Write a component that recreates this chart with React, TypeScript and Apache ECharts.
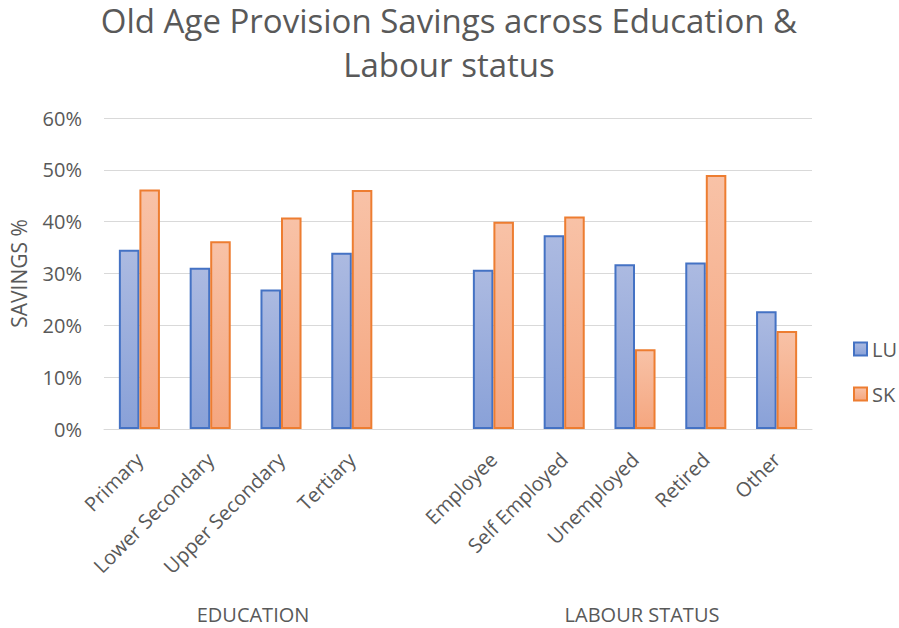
import React, { useEffect, useRef } from "react";
import * as echarts from "echarts";

const categories = [
  "Primary",
  "Lower Secondary",
  "Upper Secondary",
  "Tertiary",
  "",
  "Employee",
  "Self Employed",
  "Unemployed",
  "Retired",
  "Other",
];
const luValues = [0.346, 0.311, 0.269, 0.34, null, 0.307, 0.374, 0.318, 0.321, 0.227];
const skValues = [0.462, 0.362, 0.408, 0.461, null, 0.4, 0.41, 0.154, 0.49, 0.189];
const groupLabels = ["EDUCATION", "LABOUR STATUS"];
const yTicks = [0, 0.1, 0.2, 0.3, 0.4, 0.5, 0.6];
const titleLines = ["Old Age Provision Savings across Education &", "Labour status"];

const FONT = "'Open Sans', 'DejaVu Sans', sans-serif";
const GREY = "#595959";

export default function App() {
  const ref = useRef<HTMLDivElement>(null);
  useEffect(() => {
    document.body.style.margin = "0";
    if (!ref.current) return;
    const chart = echarts.init(ref.current, null, { renderer: "svg" });
    chart.setOption({
      animation: false,
      backgroundColor: "#ffffff",
      textStyle: { fontFamily: FONT },
      legend: {
        orient: "vertical",
        left: 853,
        top: 339,
        padding: 0,
        itemWidth: 13,
        itemHeight: 13,
        itemGap: 25,
        icon: "rect",
        textStyle: { fontFamily: FONT, fontSize: 20, color: GREY, lineHeight: 20 },
        data: ["LU", "SK"],
      },
      grid: { left: 99, right: 87, top: 118, bottom: 199, containLabel: false },
      xAxis: {
        type: "category",
        data: categories,
        axisLine: { lineStyle: { color: "#d9d9d9", width: 1 } },
        axisTick: { show: false },
        axisLabel: {
          interval: 0,
          rotate: 45,
          margin: 27,
          fontFamily: FONT,
          fontSize: 20,
          color: GREY,
        },
      },
      yAxis: {
        type: "value",
        min: yTicks[0],
        max: yTicks[yTicks.length - 1],
        interval: 0.1,
        name: "SAVINGS %",
        nameLocation: "middle",
        nameRotate: 90,
        nameGap: 75,
        nameTextStyle: { fontFamily: FONT, fontSize: 21, color: GREY },
        axisLine: { show: false },
        axisTick: { show: false },
        splitLine: { lineStyle: { color: "#d9d9d9", width: 1 } },
        axisLabel: {
          margin: 22,
          fontFamily: FONT,
          fontSize: 20,
          color: GREY,
          formatter: (v: number) => Math.round(v * 100) + "%",
        },
      },
      series: [
        {
          name: "LU",
          type: "bar",
          data: luValues,
          barGap: "0%",
          barCategoryGap: "42%",
          itemStyle: {
            color: new echarts.graphic.LinearGradient(0, 0, 0, 1, [
              { offset: 0, color: "#acbae1" },
              { offset: 1, color: "#89a1d8" },
            ]),
            borderColor: "#4472c4",
            borderWidth: 2,
          },
        },
        {
          name: "SK",
          type: "bar",
          data: skValues,
          barGap: "0%",
          barCategoryGap: "42%",
          itemStyle: {
            color: new echarts.graphic.LinearGradient(0, 0, 0, 1, [
              { offset: 0, color: "#f8c2a7" },
              { offset: 1, color: "#f5a67f" },
            ]),
            borderColor: "#ed7d31",
            borderWidth: 2,
          },
        },
      ],
      graphic: [
        {
          type: "text",
          x: 449,
          y: 20,
          style: {
            text: titleLines[0],
            font: `33px ${FONT}`,
            fill: GREY,
            textAlign: "center",
            textVerticalAlign: "middle",
          },
        },
        {
          type: "text",
          x: 449,
          y: 64,
          style: {
            text: titleLines[1],
            font: `33px ${FONT}`,
            fill: GREY,
            textAlign: "center",
            textVerticalAlign: "middle",
          },
        },
        {
          type: "text",
          x: 253,
          y: 614,
          style: {
            text: groupLabels[0],
            font: `20px ${FONT}`,
            fill: GREY,
            textAlign: "center",
            textVerticalAlign: "middle",
          },
        },
        {
          type: "text",
          x: 642,
          y: 614,
          style: {
            text: groupLabels[1],
            font: `20px ${FONT}`,
            fill: GREY,
            textAlign: "center",
            textVerticalAlign: "middle",
          },
        },
      ],
    });
    return () => chart.dispose();
  }, []);
  return <div ref={ref} style={{ width: 899, height: 628 }} />;
}
